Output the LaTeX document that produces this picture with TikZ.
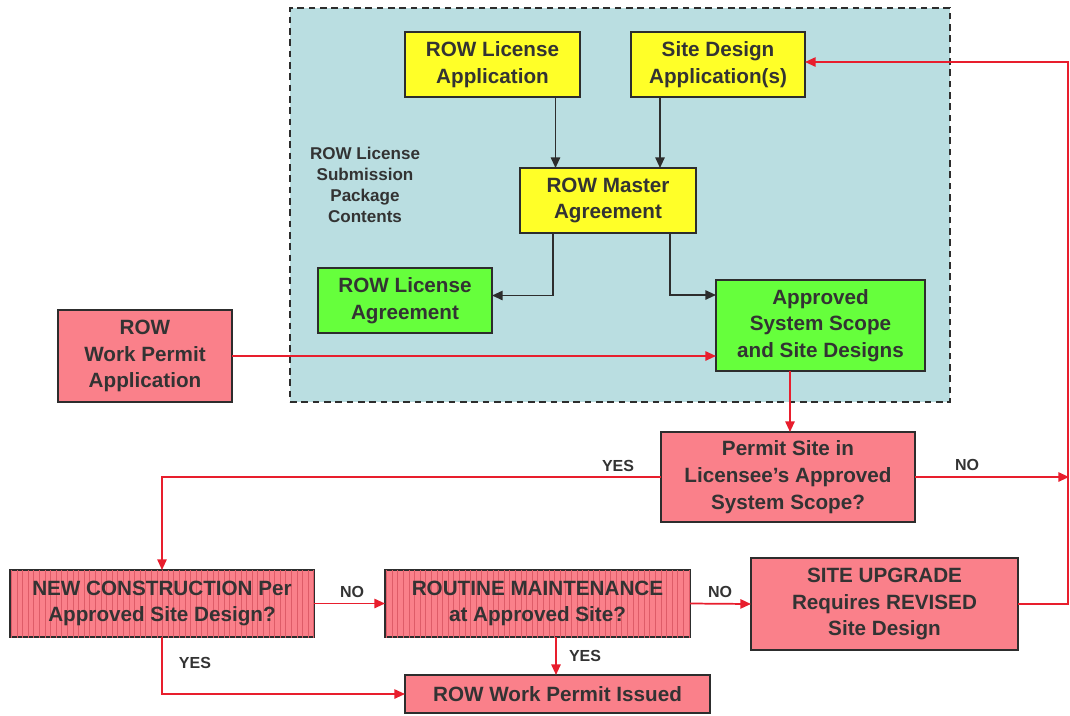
\documentclass[tikz,border=0pt]{standalone}
\usepackage{fontspec}
\setmainfont{Liberation Sans}
\usetikzlibrary{arrows.meta,calc,patterns.meta}
\definecolor{txt}{RGB}{51,51,51}
\definecolor{bord}{RGB}{45,45,45}
\definecolor{pkgfill}{RGB}{186,222,225}
\definecolor{yel}{RGB}{255,255,40}
\definecolor{grn}{RGB}{102,255,60}
\definecolor{pnk}{RGB}{250,128,138}
\definecolor{redl}{RGB}{232,30,45}
\definecolor{hatch}{RGB}{222,92,104}
\tikzset{
  box/.style={draw=bord, line width=1.7pt, inner sep=0pt, outer sep=0pt, align=center,
    text=txt, font=\fontsize{15.5}{20}\selectfont\bfseries},
  ybox/.style={box, fill=yel},
  gbox/.style={box, fill=grn},
  pbox/.style={box, fill=pnk},
  hbox/.style={box, fill=pnk, postaction={pattern={Lines[angle=90,distance=4.2pt,line width=0.45pt]}, pattern color=hatch}},
  garrow/.style={draw=bord, line width=1.3pt, -{Triangle[length=8pt,width=7pt]}},
  rarrow/.style={draw=redl, line width=1.3pt, -{Triangle[length=8pt,width=7pt]}},
  lbl/.style={text=txt, font=\fontsize{12}{14}\selectfont\bfseries, inner sep=0pt},
  pkg/.style={draw=bord, dashed, dash pattern=on 5pt off 3.5pt, line width=1.1pt, fill=pkgfill, inner sep=0pt, outer sep=0pt}
}
\begin{document}
\begin{tikzpicture}[x=0.75pt,y=-0.75pt]
\useasboundingbox (0,0) rectangle (1070,715);
\fill[white] (0,0) rectangle (1070,715);
% container
\node[pkg, minimum width=495pt, minimum height=295.5pt] (pkgbox) at (620,205) {};
\node[text=txt, align=center, font=\fontsize{12.8}{15.8}\selectfont\bfseries] (pkglbl) at (365,185) {ROW License\\Submission\\Package\\Contents};
% boxes
\node[ybox, minimum width=131.25pt, minimum height=48.75pt] (lapp) at (492.5,64.5) {ROW License\\Application};
\node[ybox, minimum width=130.5pt, minimum height=48.75pt] (sapp) at (718,64.5) {Site Design\\Application(s)};
\node[ybox, minimum width=132pt, minimum height=48.75pt] (master) at (608,200.5) {ROW Master\\Agreement};
\node[gbox, minimum width=130.5pt, minimum height=48.75pt] (lagr) at (405,300.5) {ROW License\\Agreement};
\node[gbox, minimum width=156.75pt, minimum height=68.25pt] (appr) at (820.5,325.5) {Approved\\System Scope\\and Site Designs};
\node[pbox, minimum width=130.5pt, minimum height=69pt] (wpa) at (145,356) {ROW\\Work Permit\\Application};
\node[pbox, minimum width=190.5pt, minimum height=67.5pt] (psite) at (788,477) {Permit Site in\\Licensee’s Approved\\System Scope?};
\node[hbox, minimum width=228pt, minimum height=50.25pt] (newc) at (162,603.5) {NEW CONSTRUCTION Per\\Approved Site Design?};
\node[hbox, minimum width=228.75pt, minimum height=50.25pt] (rout) at (537.5,603.5) {ROUTINE MAINTENANCE\\at Approved Site?};
\node[pbox, minimum width=200.25pt, minimum height=69pt] (upg) at (884.5,604) {SITE UPGRADE\\Requires REVISED\\Site Design};
\node[pbox, minimum width=228.75pt, minimum height=28.5pt] (issued) at (557.5,694) {ROW Work Permit Issued};
% dark arrows inside package
\coordinate (a1) at ($(lapp.south)+(63,0)$);
\coordinate (a2) at ($(sapp.south)+(-58,0)$);
\draw[garrow] (a1) -- (a1 |- master.north);
\draw[garrow] (a2) -- (a2 |- master.north);
\coordinate (m1) at ($(master.south)+(-55,0)$);
\coordinate (m2) at ($(master.south)+(62,0)$);
\coordinate (lagrin) at ($(lagr.east)+(0,-5)$);
\coordinate (apprin) at ($(appr.west)+(0,-30.5)$);
\draw[garrow] (m1) |- (lagrin);
\draw[garrow] (m2) |- (apprin);
% red arrows
\draw[rarrow] (wpa.east) -- (wpa.east -| appr.west);
\coordinate (ap) at ($(appr.south)+(-30.5,0)$);
\draw[rarrow] (ap) -- (ap |- psite.north);
\draw[rarrow] (psite.west) -| (newc.north);
\coordinate (noend) at (1069,477);
\draw[rarrow] (psite.east) -- (noend);
\draw[rarrow] (newc.east) -- (rout.west);
\draw[rarrow] (rout.east) -- (upg.west);
\draw[rarrow] (newc.south) |- (issued.west);
\coordinate (r1) at ($(rout.south)+(18.5,0)$);
\draw[rarrow] (r1) -- (r1 |- issued.north);
\coordinate (rc) at (1068,604);
\draw[rarrow] (upg.east) -- (rc) |- ($(sapp.east)+(0,-2.5)$);
% labels
\node[lbl] (yes1) at (618,466) {YES};
\node[lbl] (no1) at (967,465) {NO};
\node[lbl] (no2) at (352,592) {NO};
\node[lbl] (no3) at (720,592) {NO};
\node[lbl] (yes2) at (195,663) {YES};
\node[lbl] (yes3) at (585,656) {YES};
\end{tikzpicture}
\end{document}
